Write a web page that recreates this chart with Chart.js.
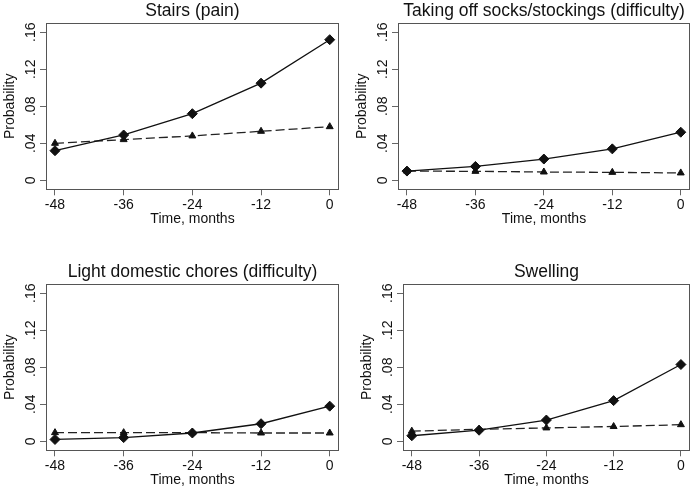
<!DOCTYPE html>
<html>
<head>
<meta charset="utf-8">
<script src="https://cdn.jsdelivr.net/npm/chart.js@4"></script>
<style>
	html, body { margin: 0; padding: 0; background: #fff; }
	#wrap { position: relative; width: 696px; height: 489px; overflow: hidden; }
	.panel { position: absolute; width: 348px; height: 245px; }
</style>
</head>
<body>
<div id="wrap">
	<div class="panel" style="left:0;top:0"><canvas id="p1" width="348" height="245"></canvas></div>
	<div class="panel" style="left:348px;top:0"><canvas id="p2" width="348" height="245"></canvas></div>
	<div class="panel" style="left:0;top:261px"><canvas id="p3" width="348" height="245"></canvas></div>
	<div class="panel" style="left:348px;top:261px"><canvas id="p4" width="348" height="245"></canvas></div>
</div>
<script>
// data
const months = [-48, -36, -24, -12, 0];
const yTicks = [0, 0.04, 0.08, 0.12, 0.16];
const yTickLabels = ['0', '.04', '.08', '.12', '.16'];
const titles = ['Stairs (pain)', 'Taking off socks/stockings (difficulty)', 'Light domestic chores (difficulty)', 'Swelling'];

const stairsSolid = [0.032, 0.049, 0.072, 0.105, 0.152];
const stairsDashed = [0.040, 0.044, 0.048, 0.053, 0.058];
const socksSolid = [0.010, 0.015, 0.023, 0.034, 0.052];
const socksDashed = [0.010, 0.0097, 0.009, 0.0086, 0.008];
const choresSolid = [0.002, 0.004, 0.009, 0.019, 0.038];
const choresDashed = [0.0094, 0.0094, 0.0094, 0.009, 0.009];
const swellingSolid = [0.006, 0.012, 0.023, 0.044, 0.083];
const swellingDashed = [0.011, 0.013, 0.0145, 0.016, 0.018];

const FONT = '"Liberation Sans", Arial, Helvetica, sans-serif';
const W = 348, H = 245;

// plot box (left, top, right, bottom) inside each canvas
const panels = [
	{ id: 'p1', title: titles[0], solid: stairsSolid, dashed: stairsDashed, box: [46, 23.3, 339, 189.3] },
	{ id: 'p2', title: titles[1], solid: socksSolid, dashed: socksDashed, box: [50, 23.3, 347.7, 189.3] },
	{ id: 'p3', title: titles[2], solid: choresSolid, dashed: choresDashed, box: [46, 23.3, 339, 189.3] },
	{ id: 'p4', title: titles[3], solid: swellingSolid, dashed: swellingDashed, box: [55, 23.3, 347.7, 189.3] }
];

// frame, title, rotated y labels (Stata style)
const panelDecor = {
	id: 'panelDecor',
	afterDraw(chart, args, opts) {
		const ctx = chart.ctx;
		const a = chart.chartArea;
		const yScale = chart.scales.y;
		ctx.save();
		ctx.strokeStyle = '#555';
		ctx.lineWidth = 1;
		ctx.strokeRect(Math.floor(a.left) + 0.5, Math.floor(a.top) + 0.5,
			Math.round(a.right - a.left) - 1, Math.round(a.bottom - a.top));

		ctx.fillStyle = '#111';
		ctx.font = '17.5px ' + FONT;
		ctx.textAlign = 'center';
		ctx.textBaseline = 'alphabetic';
		ctx.fillText(opts.title, (a.left + a.right) / 2, a.top - 7.6);

		ctx.font = '14px ' + FONT;
		ctx.save();
		ctx.translate(a.left - 32.5, (a.top + a.bottom) / 2);
		ctx.rotate(-Math.PI / 2);
		ctx.fillText('Probability', 0, 0);
		ctx.restore();

		yTicks.forEach((v, i) => {
			ctx.save();
			ctx.translate(a.left - 11.3, yScale.getPixelForValue(v));
			ctx.rotate(-Math.PI / 2);
			ctx.fillText(yTickLabels[i], 0, 0);
			ctx.restore();
		});
		ctx.restore();
	}
};

function makePanel(p) {
	const [left, top, right, bottom] = p.box;
	const ctx = document.getElementById(p.id).getContext('2d');
	new Chart(ctx, {
		type: 'line',
		data: {
			datasets: [
				{
					data: months.map((m, i) => ({ x: m, y: p.solid[i] })),
					borderColor: '#111',
					backgroundColor: '#111',
					borderWidth: 1.3,
					pointStyle: 'rectRot',
					pointRadius: 5,
					pointBorderWidth: 1,
					pointBackgroundColor: '#111',
					pointBorderColor: '#111'
				},
				{
					data: months.map((m, i) => ({ x: m, y: p.dashed[i] })),
					borderColor: '#222',
					backgroundColor: '#111',
					borderWidth: 1.3,
					borderDash: [9, 4],
					pointStyle: 'triangle',
					pointRadius: 4,
					pointBorderWidth: 1,
					pointBackgroundColor: '#111',
					pointBorderColor: '#111'
				}
			]
		},
		options: {
			responsive: false,
			devicePixelRatio: 1,
			animation: false,
			layout: { padding: { left: 0, top: top, right: W - right, bottom: 0 } },
			plugins: {
				legend: { display: false },
				tooltip: { enabled: false },
				panelDecor: { title: p.title }
			},
			scales: {
				x: {
					type: 'linear',
					min: -49.57,
					max: 1.62,
					afterBuildTicks: s => { s.ticks = months.map(v => ({ value: v })); },
					afterFit: s => { s.height = H - bottom; },
					grid: { drawOnChartArea: false, drawTicks: true, tickLength: 6, color: '#666' },
					border: { display: false },
					ticks: { color: '#111', padding: 1, maxRotation: 0, font: { size: 14, family: FONT } },
					title: {
						display: true,
						text: 'Time, months',
						color: '#111',
						font: { size: 14, family: FONT },
						padding: { top: 0, bottom: 17.6 }
					}
				},
				y: {
					min: -0.0097,
					max: 0.1697,
					afterBuildTicks: s => { s.ticks = yTicks.map(v => ({ value: v })); },
					afterFit: s => { s.width = left; },
					grid: { drawOnChartArea: false, drawTicks: true, tickLength: 6, color: '#666' },
					border: { display: false },
					ticks: { display: false }
				}
			}
		},
		plugins: [panelDecor]
	});
}

panels.forEach(makePanel);
</script>
</body>
</html>
